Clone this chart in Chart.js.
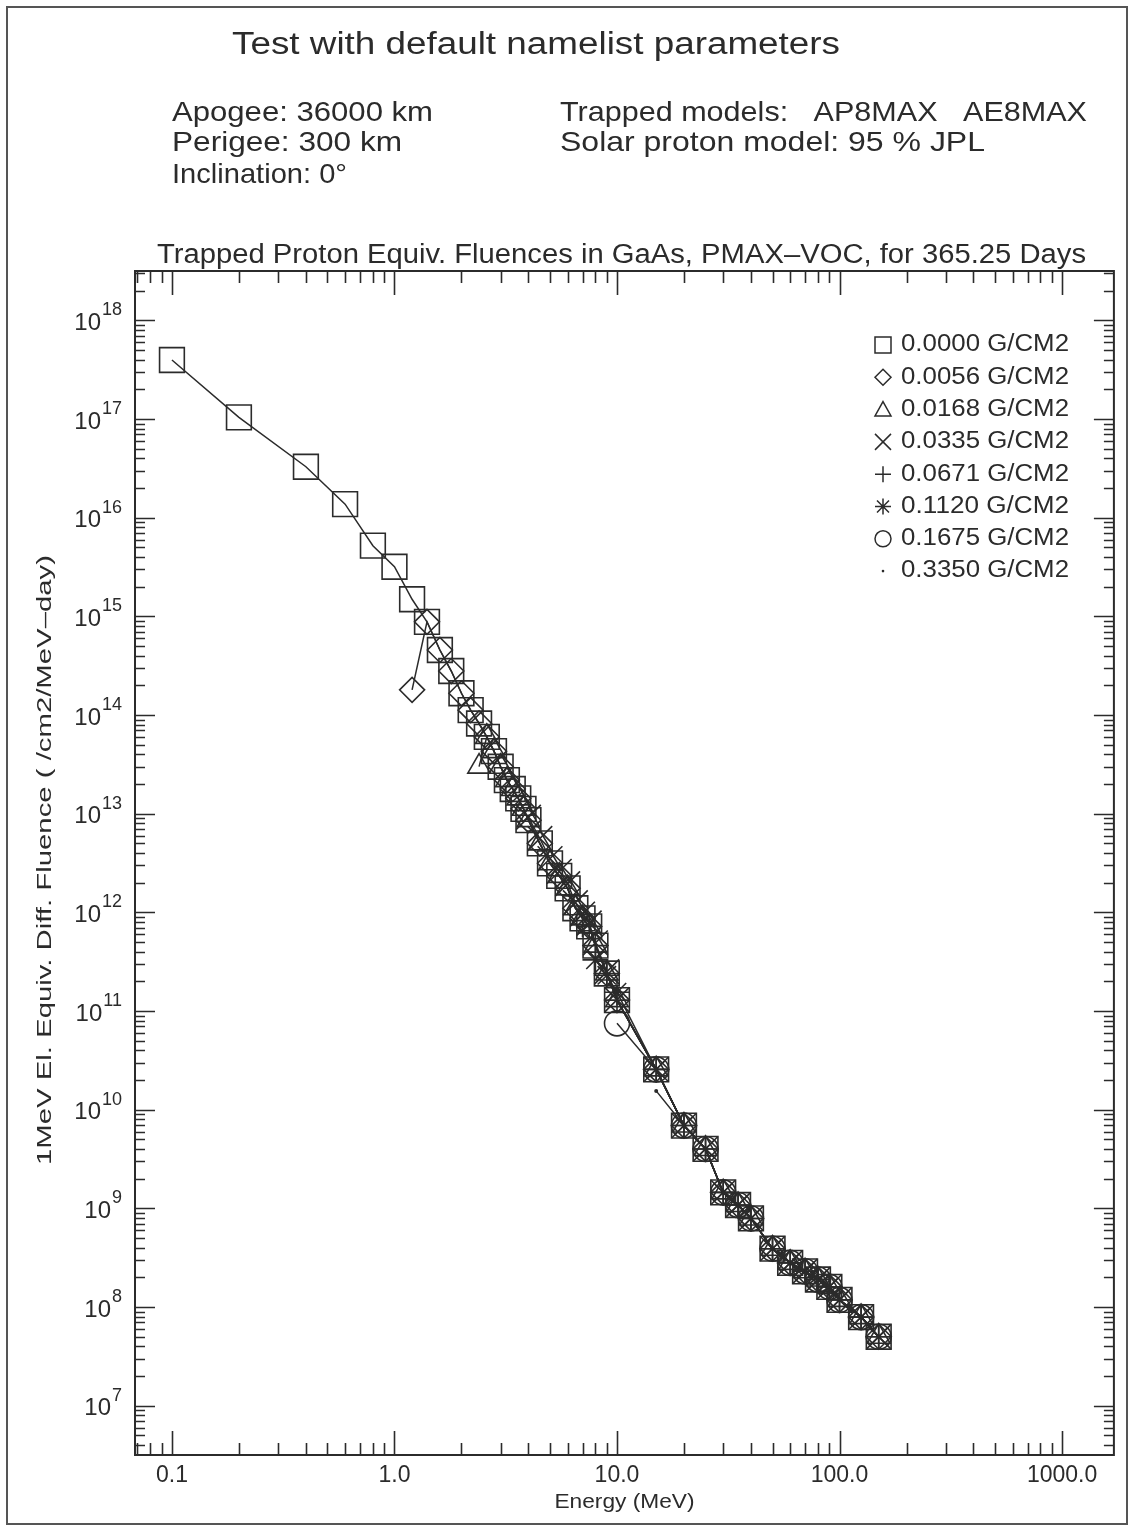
<!DOCTYPE html>
<html>
<head>
<meta charset="utf-8">
<script src="https://cdn.jsdelivr.net/npm/chart.js@4.4.1/dist/chart.umd.min.js"></script>
<style>
  html, body { margin: 0; padding: 0; background: #fff; }
  canvas { display: block; }
</style>
</head>
<body>
<canvas id="fluenceChart" width="1133" height="1530"></canvas>
<script>
const FONT = '"Liberation Sans", Arial, sans-serif';
const INK = '#2b2b2b';
const N = null;

// proton energy grid (MeV)
const energyMeV = [0.1, 0.2, 0.4, 0.6, 0.8, 1.0, 1.2, 1.4, 1.6, 1.8, 2.0,
    2.2, 2.4, 2.6, 2.8, 3.0, 3.2, 3.4, 3.6, 3.8, 4.0, 4.5, 5.0, 5.5, 6.0, 6.5,
    7.0, 7.5, 8.0, 9.0, 10, 15, 20, 25, 30, 35, 40, 50, 60, 70, 80, 90, 100, 125, 150];

// 1 MeV electron equivalent fluence per shielding thickness
const fl0000 = [3.96e17, 1.04e17, 3.28e16, 1.37e16, 5.2e15, 3.18e15, 1.49e15, 8.8e14, 4.56e14, 2.79e14, 1.66e14,
    1.12e14, 8.2e13, 6.0e13, 4.3e13, 2.99e13, 2.19e13, 1.78e13, 1.43e13, 1.12e13, 8.6e12, 5.0e12, 3.14e12, 2.34e12, 1.75e12, 1.1e12,
    8.7e11, 7.2e11, 4.6e11, 2.4e11, 1.29e11, 2.56e10, 6.9e9, 4.0e9, 1.45e9, 1.08e9, 7.9e8, 3.9e8, 2.8e8, 2.3e8, 1.9e8, 1.6e8, 1.18e8, 7.9e7, 5.0e7];
const fl0056 = [N, N, N, N, N, N, 1.8e14, 8.8e14, 4.56e14, 2.79e14, 1.66e14,
    1.12e14, 8.2e13, 6.0e13, 4.3e13, 2.99e13, 2.19e13, 1.78e13, 1.43e13, 1.12e13, 8.6e12, 5.0e12, 3.14e12, 2.34e12, 1.75e12, 1.1e12,
    8.7e11, 7.2e11, 4.6e11, 2.4e11, 1.29e11, 2.56e10, 6.9e9, 4.0e9, 1.45e9, 1.08e9, 7.9e8, 3.9e8, 2.8e8, 2.3e8, 1.9e8, 1.6e8, 1.18e8, 7.9e7, 5.0e7];
const fl0168 = [N, N, N, N, N, N, N, N, N, N, N,
    N, 3.0e13, 6.0e13, 4.3e13, 2.99e13, 2.19e13, 1.78e13, 1.43e13, 1.12e13, 8.6e12, 5.0e12, 3.14e12, 2.34e12, 1.75e12, 1.1e12,
    8.7e11, 7.2e11, 4.6e11, 2.4e11, 1.29e11, 2.56e10, 6.9e9, 4.0e9, 1.45e9, 1.08e9, 7.9e8, 3.9e8, 2.8e8, 2.3e8, 1.9e8, 1.6e8, 1.18e8, 7.9e7, 5.0e7];
const fl0335 = [N, N, N, N, N, N, N, N, N, N, N,
    N, N, N, N, N, N, N, N, N, 9.2e12, 5.6e12, 3.5e12, 2.6e12, 1.95e12, 1.25e12,
    9.6e11, 7.8e11, 4.9e11, 2.5e11, 1.3e11, 2.56e10, 6.9e9, 4.0e9, 1.45e9, 1.08e9, 7.9e8, 3.9e8, 2.8e8, 2.3e8, 1.9e8, 1.6e8, 1.18e8, 7.9e7, 5.0e7];
const fl0671 = [N, N, N, N, N, N, N, N, N, N, N,
    N, N, N, N, N, N, N, N, N, N, N, N, N, N, N,
    7.5e11, 7.2e11, 4.6e11, 2.4e11, 1.29e11, 2.56e10, 6.9e9, 4.0e9, 1.45e9, 1.08e9, 7.9e8, 3.9e8, 2.8e8, 2.3e8, 1.9e8, 1.6e8, 1.18e8, 7.9e7, 5.0e7];
const fl1120 = [N, N, N, N, N, N, N, N, N, N, N,
    N, N, N, N, N, N, N, N, N, N, N, N, N, N, N,
    N, N, 3.3e11, 2.3e11, 1.55e11, 2.56e10, 6.9e9, 4.0e9, 1.45e9, 1.08e9, 7.9e8, 3.9e8, 2.8e8, 2.3e8, 1.9e8, 1.6e8, 1.18e8, 7.9e7, 5.0e7];
const fl1675 = [N, N, N, N, N, N, N, N, N, N, N,
    N, N, N, N, N, N, N, N, N, N, N, N, N, N, N,
    N, N, N, N, 7.5e10, 2.56e10, 6.9e9, 4.0e9, 1.45e9, 1.08e9, 7.9e8, 3.9e8, 2.8e8, 2.3e8, 1.9e8, 1.6e8, 1.18e8, 7.9e7, 5.0e7];
const fl3350 = [N, N, N, N, N, N, N, N, N, N, N,
    N, N, N, N, N, N, N, N, N, N, N, N, N, N, N,
    N, N, N, N, N, 1.55e10, 6.9e9, 4.0e9, 1.45e9, 1.08e9, 7.9e8, 3.9e8, 2.8e8, 2.3e8, 1.9e8, 1.6e8, 1.18e8, 7.9e7, 5.0e7];

const shieldLabels = ['0.0000 G/CM2', '0.0056 G/CM2', '0.0168 G/CM2', '0.0335 G/CM2',
    '0.0671 G/CM2', '0.1120 G/CM2', '0.1675 G/CM2', '0.3350 G/CM2'];
const seriesValues = [fl0000, fl0056, fl0168, fl0335, fl0671, fl1120, fl1675, fl3350];
const symbols = ['rect', 'rectRot', 'triangle', 'crossRot', 'cross', 'star', 'circle', 'dot'];

const xTickValues = [0.1, 1, 10, 100, 1000];
const xTickLabels = ['0.1', '1.0', '10.0', '100.0', '1000.0'];
const yTickExponents = [7, 8, 9, 10, 11, 12, 13, 14, 15, 16, 17, 18];

// chart.js point style + radius that give the plotted symbol sizes
const chartStyle = {
    rect: ['rect', 17.5], rectRot: ['rectRot', 12.5], triangle: ['triangle', 13],
    crossRot: ['crossRot', 17.5], cross: ['cross', 12.5], star: ['star', 13],
    circle: ['circle', 12.5], dot: ['circle', 1.2]
};

function txt(ctx, s, x, y, size, width, align) {
    ctx.font = size + 'px ' + FONT;
    const w = ctx.measureText(s).width;
    const sx = width ? width / w : 1;
    ctx.save();
    ctx.translate(x, y);
    ctx.scale(sx, 1);
    ctx.textAlign = align || 'left';
    ctx.textBaseline = 'middle';
    ctx.fillText(s, 0, 0);
    ctx.restore();
}

function drawSymbol(ctx, style, x, y, r) {
    ctx.beginPath();
    if (style === 'rect') {
        ctx.rect(x - r, y - r, 2 * r, 2 * r);
    } else if (style === 'rectRot') {
        ctx.moveTo(x, y - r); ctx.lineTo(x + r, y); ctx.lineTo(x, y + r); ctx.lineTo(x - r, y); ctx.closePath();
    } else if (style === 'triangle') {
        ctx.moveTo(x, y - r); ctx.lineTo(x + r, y + r * 0.8); ctx.lineTo(x - r, y + r * 0.8); ctx.closePath();
    } else if (style === 'crossRot' || style === 'star') {
        const d = style === 'star' ? r * 0.75 : r;
        ctx.moveTo(x - d, y - d); ctx.lineTo(x + d, y + d);
        ctx.moveTo(x + d, y - d); ctx.lineTo(x - d, y + d);
    }
    if (style === 'cross' || style === 'star') {
        ctx.moveTo(x - r, y); ctx.lineTo(x + r, y);
        ctx.moveTo(x, y - r); ctx.lineTo(x, y + r);
    }
    if (style === 'circle') ctx.arc(x, y, r, 0, Math.PI * 2);
    if (style === 'dot') {
        ctx.arc(x, y, 1.3, 0, Math.PI * 2);
        ctx.fill();
        return;
    }
    ctx.stroke();
}

const decorPlugin = {
    id: 'decor',
    beforeDraw(chart) {
        const ctx = chart.ctx;
        ctx.save();
        ctx.fillStyle = '#fff';
        ctx.fillRect(0, 0, chart.width, chart.height);
        ctx.strokeStyle = '#555';
        ctx.lineWidth = 2;
        ctx.strokeRect(7, 7, 1120, 1517);

        ctx.fillStyle = INK;
        txt(ctx, 'Test with default namelist parameters', 536, 45, 31, 608, 'center');
        txt(ctx, 'Apogee: 36000 km', 172, 113, 28, 261);
        txt(ctx, 'Perigee: 300 km', 172, 143, 28, 230);
        txt(ctx, 'Inclination: 0°', 172, 175, 28, 175);
        txt(ctx, 'Trapped models:   AP8MAX   AE8MAX', 560, 113, 28, 527);
        txt(ctx, 'Solar proton model: 95 % JPL', 560, 143, 28, 425);
        txt(ctx, 'Trapped Proton Equiv. Fluences in GaAs, PMAX\u2013VOC, for 365.25 Days', 157, 256, 27, 929);
        ctx.restore();
    },
    afterDraw(chart) {
        const ctx = chart.ctx;
        const a = chart.chartArea;
        const xs = chart.scales.x, ys = chart.scales.y;
        ctx.save();
        ctx.strokeStyle = INK;
        ctx.fillStyle = INK;

        // frame
        ctx.lineWidth = 2;
        ctx.strokeRect(a.left, a.top, a.right - a.left, a.bottom - a.top);

        // inward ticks
        ctx.lineWidth = 1.6;
        ctx.beginPath();
        for (let d = -2; d <= 4; d++) {
            for (let m = 1; m <= 9; m++) {
                const v = m * Math.pow(10, d);
                if (v < xs.min || v > xs.max) continue;
                const px = Math.round(xs.getPixelForValue(v)) + 0.5;
                const len = m === 1 ? 24 : 12;
                ctx.moveTo(px, a.bottom); ctx.lineTo(px, a.bottom - len);
                ctx.moveTo(px, a.top); ctx.lineTo(px, a.top + len);
            }
        }
        for (let d = 5; d <= 19; d++) {
            for (let m = 1; m <= 9; m++) {
                const v = m * Math.pow(10, d);
                if (v < ys.min || v > ys.max) continue;
                const py = Math.round(ys.getPixelForValue(v)) + 0.5;
                const len = m === 1 ? 20 : 10;
                ctx.moveTo(a.left, py); ctx.lineTo(a.left + len, py);
                ctx.moveTo(a.right, py); ctx.lineTo(a.right - len, py);
            }
        }
        ctx.stroke();

        // x tick labels
        xTickValues.forEach((v, i) => {
            txt(ctx, xTickLabels[i], xs.getPixelForValue(v), a.bottom + 21, 23, 0, 'center');
        });
        // y tick labels 10^n
        yTickExponents.forEach(e => {
            const py = ys.getPixelForValue(Math.pow(10, e));
            ctx.font = '18px ' + FONT;
            const ew = ctx.measureText(String(e)).width;
            txt(ctx, String(e), 122, py - 10, 18, 0, 'right');
            txt(ctx, '10', 122 - ew - 1, py + 3, 24, 0, 'right');
        });

        // axis titles
        txt(ctx, 'Energy (MeV)', (a.left + a.right) / 2, 1502, 20, 140, 'center');
        ctx.save();
        ctx.translate(45, 860);
        ctx.rotate(-Math.PI / 2);
        txt(ctx, '1MeV El. Equiv. Diff. Fluence ( /cm2/MeV\u2013day)', 0, 0, 20, 610, 'center');
        ctx.restore();

        // legend
        ctx.lineWidth = 1.5;
        shieldLabels.forEach((lab, i) => {
            const y = 345 + i * 32.3;
            drawSymbol(ctx, symbols[i], 883, y, 8);
            txt(ctx, lab, 901, y, 23, 168, 'left');
        });
        ctx.restore();
    }
};

const datasets = shieldLabels.map((lab, i) => {
    const [style, radius] = chartStyle[symbols[i]];
    return {
        label: lab,
        data: energyMeV.map((e, k) => ({ x: e, y: seriesValues[i][k] })).filter(p => p.y !== null),
        showLine: true,
        borderColor: INK,
        borderWidth: 1.5,
        backgroundColor: symbols[i] === 'dot' ? INK : 'rgba(0,0,0,0)',
        pointStyle: style,
        pointRadius: radius,
        pointHoverRadius: radius,
        pointBorderWidth: 1.6,
        pointBorderColor: INK,
        pointBackgroundColor: symbols[i] === 'dot' ? INK : 'rgba(0,0,0,0)',
        tension: 0
    };
});

new Chart(document.getElementById('fluenceChart'), {
    type: 'scatter',
    data: { datasets },
    options: {
        responsive: false,
        animation: false,
        layout: { padding: { left: 135, right: 17, top: 271, bottom: 75 } },
        scales: {
            x: { type: 'logarithmic', display: false, min: Math.pow(10, -1.166), max: Math.pow(10, 3.233) },
            y: { type: 'logarithmic', display: false, min: Math.pow(10, 6.5), max: Math.pow(10, 18.5) }
        },
        plugins: {
            legend: { display: false },
            tooltip: { enabled: false }
        }
    },
    plugins: [decorPlugin]
});
</script>
</body>
</html>
